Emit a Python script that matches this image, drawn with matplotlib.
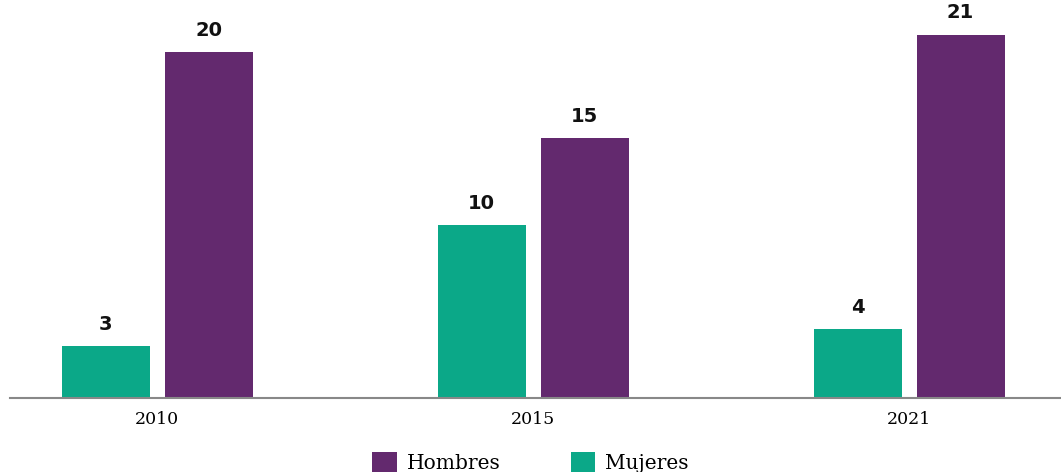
import matplotlib.pyplot as plt
import numpy as np

years = ["2010", "2015", "2021"]
mujeres = [3, 10, 4]
hombres = [20, 15, 21]

c_hom = "#63296e"
c_muj = "#0ba888"

fig = plt.figure(figsize=(10.61, 4.72), dpi=100)
ax = fig.add_axes([10 / 1061, 74 / 472, 1 - 10 / 1061, 1 - 74 / 472])

x = np.arange(len(years))
w = 0.234
off = 0.137
b_muj = ax.bar(x - off, mujeres, w, color=c_muj, label="Mujeres")
b_hom = ax.bar(x + off, hombres, w, color=c_hom, label="Hombres")

# value on top of each bar
for bars, vals in ((b_muj, mujeres), (b_hom, hombres)):
    for b, v in zip(bars, vals):
        ax.text(b.get_x() + b.get_width() / 2, v + 0.7, str(v), ha="center", va="bottom",
                fontsize=14, fontweight="bold", family="DejaVu Sans", color="#111111")

ax.set_xlim(-0.391, 2.404)
ax.set_ylim(0, 23)
ax.set_xticks(x)
ax.set_xticklabels(years, family="DejaVu Serif", fontsize=12.5)
ax.tick_params(axis="x", length=0, pad=9)
ax.set_yticks([])
for s in ("top", "right", "left"):
    ax.spines[s].set_visible(False)
ax.spines["bottom"].set_color("#888888")
ax.spines["bottom"].set_linewidth(1.5)

handles = [b_hom, b_muj]
fig.legend(handles, ["Hombres", "Mujeres"], loc="lower center", bbox_to_anchor=(0.5, -0.04),
           ncol=2, frameon=False, prop={"family": "DejaVu Serif", "size": 14.5},
           handlelength=1.2, handleheight=1.2, columnspacing=3.5, handletextpad=0.5)

fig.savefig("out.png", dpi=100)
